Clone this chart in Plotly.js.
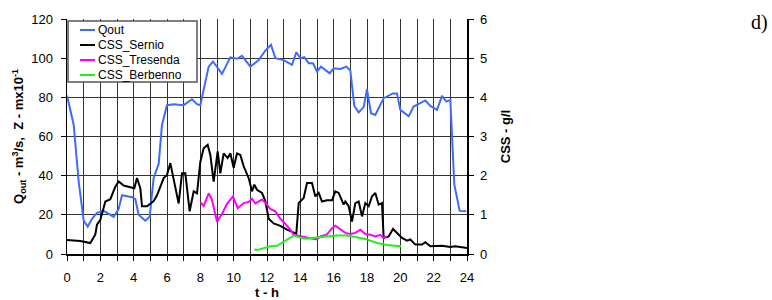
<!DOCTYPE html>
<html><head><meta charset="utf-8">
<script src="https://cdn.plot.ly/plotly-3.0.1.min.js"></script>
<style>html,body{margin:0;padding:0;background:#fff;}#chart{width:772px;height:300px;}</style>
</head><body><div id="chart"></div>
<script>
// Qout (left axis, m3/s)
const tQout = [0,0.4,0.7,1.0,1.24,1.5,1.8,2.2,2.8,3.1,3.3,3.9,4.1,4.3,4.7,4.96,5.2,5.5,5.7,6.0,6.4,7.0,7.5,7.8,8.0,8.5,8.76,9.3,9.8,10.2,10.5,11.0,11.5,11.9,12.24,12.5,13.0,13.5,13.76,14.0,14.24,14.5,14.76,15.0,15.24,15.76,16.0,16.4,16.76,17.0,17.24,17.5,17.8,18.0,18.24,18.5,19.0,19.56,19.8,20.0,20.5,20.8,21.5,21.8,22.2,22.5,22.76,23.0,23.24,23.56,23.96];
const qout = [81,66,37,17,14,18,21,22,19,23,30,29,28,20,17,19,39,46,66,76,76.5,76,79,76.5,76,95.7,98.3,92,100.4,99.7,101.2,95.7,99,103.9,106.8,100,99,96.6,103,100,100.5,97.4,97.4,93.2,95.7,92.3,94.8,94.5,95.7,93.7,75.6,72.3,75,84.1,71.9,71,79.6,82,82,73.6,70.3,75.3,78.4,75.6,73.6,80.7,77.8,78.7,35.4,22,21.8];
// CSS_Sernio (right axis, g/l)
const tSernio = [0,0.8,1.4,1.7,1.8,2.0,2.3,2.6,2.9,3.1,3.4,3.9,4.04,4.2,4.4,4.5,4.8,5.2,5.4,5.8,6.0,6.2,6.4,6.7,6.9,7.1,7.36,7.6,7.8,8.0,8.2,8.44,8.6,8.8,9.04,9.2,9.4,9.64,9.8,10.0,10.2,10.4,10.6,10.9,11.1,11.24,11.4,11.7,11.9,12.1,12.4,12.8,13.2,13.6,13.76,13.9,14.2,14.4,14.7,14.9,15.1,15.3,15.6,15.9,16.1,16.3,16.6,16.7,16.9,17.1,17.3,17.5,17.7,17.9,18.1,18.3,18.5,18.7,18.9,19.0,19.3,19.56,19.8,20.1,20.4,20.6,20.9,21.3,21.5,21.8,22.5,23.0,23.3,24.0];
const cssSernio = [0.36,0.33,0.28,0.5,0.75,0.87,1.34,1.40,1.72,1.85,1.75,1.70,1.68,1.94,1.68,1.22,1.22,1.35,1.5,1.94,2.02,2.32,1.94,1.29,2.06,2.06,1.09,1.6,1.55,2.35,2.7,2.79,2.53,1.85,2.62,2.06,2.57,2.45,2.57,2.2,2.57,2.53,2.24,1.94,1.6,1.77,1.64,1.56,1.35,0.9,0.78,0.72,0.62,0.54,0.52,1.3,1.43,1.81,1.81,1.47,1.56,1.34,1.37,1.37,1.6,1.56,1.26,1.34,1.22,0.83,1.30,1.34,0.96,1.30,1.22,1.47,1.56,1.26,1.30,0.41,0.45,0.64,0.54,0.41,0.34,0.37,0.24,0.24,0.30,0.2,0.21,0.18,0.2,0.15];
// CSS_Tresenda
const tTresenda = [8.0,8.2,8.5,8.7,9.0,9.3,9.6,9.96,10.24,10.6,10.9,11.1,11.3,11.7,12.0,12.2,12.5,12.8,13.1,13.4,13.6,14.0,14.5,15.0,15.2,15.6,15.9,16.1,16.4,16.7,17.0,17.3,17.6,17.9,18.2,18.5,18.8,19.0,19.2];
const cssTresenda = [1.32,1.23,1.55,1.38,0.82,1.02,1.28,1.47,1.17,1.3,1.33,1.41,1.29,1.39,1.26,1.15,1.09,0.9,0.77,0.62,0.49,0.45,0.41,0.37,0.45,0.5,0.66,0.72,0.64,0.54,0.51,0.54,0.62,0.51,0.49,0.45,0.49,0.41,0.45];
// CSS_Berbenno
const tBerbenno = [11.24,11.5,11.8,12.2,12.6,13.0,13.3,13.6,13.9,14.3,14.7,15.1,15.6,16.2,16.8,17.4,18.0,18.6,19.2,19.6,20.04];
const cssBerbenno = [0.11,0.11,0.15,0.20,0.21,0.32,0.41,0.47,0.43,0.39,0.41,0.43,0.45,0.47,0.47,0.43,0.37,0.28,0.23,0.21,0.2];

const seriesNames = ['Qout','CSS_Sernio','CSS_Tresenda','CSS_Berbenno'];
const seriesColors = ['#3D6BFF','#000000','#FF00FF','#22EE22'];
const xTickVals = [0,2,4,6,8,10,12,14,16,18,20,22,24];

const FONT = 'Liberation Sans, Arial, sans-serif';
const traces = [
  {x:tQout, y:qout, name:seriesNames[0], mode:'lines', line:{color:seriesColors[0], width:2}, yaxis:'y'},
  {x:tSernio, y:cssSernio, name:seriesNames[1], mode:'lines', line:{color:seriesColors[1], width:2}, yaxis:'y2'},
  {x:tTresenda, y:cssTresenda, name:seriesNames[2], mode:'lines', line:{color:seriesColors[2], width:2}, yaxis:'y2'},
  {x:tBerbenno, y:cssBerbenno, name:seriesNames[3], mode:'lines', line:{color:seriesColors[3], width:2}, yaxis:'y2'}
];

// compact legend box (paper coordinates of the 400x235 plot area)
const PW = 400, PH = 235;
const px = v => v / PW, py = v => 1 - v / PH;   // pixel offsets from plot top-left
const shapes = [{type:'rect', xref:'paper', yref:'paper', x0:px(1), x1:px(130), y0:py(2), y1:py(63),
                 fillcolor:'#fff', line:{color:'#555', width:1.5}, layer:'above'}];
const annotations = [];
seriesNames.forEach((n, i) => {
  const yc = 11 + i * 15;
  shapes.push({type:'line', xref:'paper', yref:'paper', x0:px(13), x1:px(28), y0:py(yc), y1:py(yc),
               line:{color:seriesColors[i], width:2}, layer:'above'});
  annotations.push({text:n, xref:'paper', yref:'paper', x:px(28.5), y:py(yc), xanchor:'left', yanchor:'middle',
                    showarrow:false, font:{family:FONT, size:12, color:'#000'}});
});
annotations.push({text:'d)', xref:'paper', yref:'paper', x:1.0, y:1.0, xshift:292, yshift:-3, showarrow:false,
                  font:{family:'Liberation Serif, Times New Roman, serif', size:20, color:'#000'}, xanchor:'center', yanchor:'middle'});

const layout = {
  width:772, height:300,
  margin:{l:67, r:305, t:19, b:46},
  paper_bgcolor:'#fff', plot_bgcolor:'#fff',
  font:{family:FONT, size:13, color:'#000'},
  showlegend:false,
  xaxis:{range:[0,24], tickvals:xTickVals, ticktext:xTickVals.map(String), showgrid:true, gridcolor:'#333', gridwidth:1,
         minor:{dtick:1, tick0:0, showgrid:true, gridcolor:'#333', gridwidth:1, ticks:'outside', ticklen:5, tickcolor:'#000'},
         ticks:'outside', ticklen:5, tickcolor:'#000', showline:true, linecolor:'#000', linewidth:1.5, mirror:false,
         zeroline:false, ticklabelstandoff:6, tickfont:{size:13},
         title:{text:'<b>t - h</b>', font:{size:13}, standoff:1}},
  yaxis:{range:[0,120], dtick:20, showgrid:true, gridcolor:'#333', gridwidth:1, ticks:'outside', ticklen:5, tickcolor:'#000',
         showline:true, linecolor:'#000', linewidth:1.5, zeroline:false, ticklabelstandoff:5, tickfont:{size:13},
         title:{text:'<b>Q<sub>out</sub> - m<sup>3</sup>/s,  Z - mx10<sup>-1</sup></b>', font:{size:13}, standoff:4}},
  yaxis2:{range:[0,6], dtick:1, overlaying:'y', side:'right', showgrid:false, ticks:'outside', ticklen:5, tickcolor:'#000',
          showline:true, linecolor:'#000', linewidth:1.5, zeroline:false, ticklabelstandoff:4, tickfont:{size:13},
          title:{text:'<b>CSS - g/l</b>', font:{size:13}, standoff:14}},
  shapes:shapes,
  annotations:annotations
};
Plotly.newPlot('chart', traces, layout, {displayModeBar:false, staticPlot:true});
</script></body></html>
